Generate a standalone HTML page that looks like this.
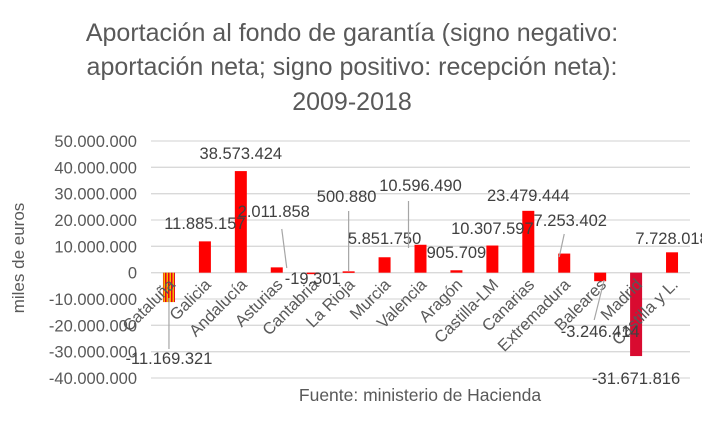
<!DOCTYPE html>
<html><head><meta charset="utf-8"><style>
body{margin:0;background:#fff;}
svg{display:block;font-family:"Liberation Sans",Arial,sans-serif;}
</style></head><body>
<svg id="chart" width="702" height="427" viewBox="0 0 702 427">
<defs>
<pattern id="catStripes" width="3" height="4" patternUnits="userSpaceOnUse">
<rect width="3" height="4" fill="#f5b800"/><rect width="1.5" height="4" fill="#e8001c"/>
</pattern>
</defs>
<g fill="#595959" font-size="25" text-anchor="middle">
<text x="352" y="41">Aportación al fondo de garantía (signo negativo:</text>
<text x="352" y="75">aportación neta; signo positivo: recepción neta):</text>
<text x="352" y="110">2009-2018</text>
</g>
<g id="grid"></g>
<g id="yticks" fill="#595959" font-size="16.5" text-anchor="end"></g>
<text x="0" y="0" transform="translate(24,258) rotate(-90)" fill="#595959" font-size="17" text-anchor="middle">miles de euros</text>
<g id="bars"></g>
<g id="xlabels" fill="#595959" font-size="16.5" text-anchor="end"></g>
<g id="vlabels" fill="#404040" font-size="16.5" text-anchor="middle"></g>
<text x="420" y="401" fill="#595959" font-size="17.5" text-anchor="middle">Fuente: ministerio de Hacienda</text>
</svg>
<script>
const categories=["Cataluña","Galicia","Andalucía","Asturias","Cantabria","La Rioja","Murcia","Valencia","Aragón","Castilla-LM","Canarias","Extremadura","Baleares","Madrid","Castilla y L."];
const values=[-11169321,11885157,38573424,2011858,-19301,500880,5851750,10596490,905709,10307597,23479444,7253402,-3246414,-31671816,7728018];
const valueLabels=["-11.169.321","11.885.157","38.573.424","2.011.858","-19.301","500.880","5.851.750","10.596.490","905.709","10.307.597","23.479.444","7.253.402","-3.246.414","-31.671.816","7.728.018"];
const yTicks=[50000000,40000000,30000000,20000000,10000000,0,-10000000,-20000000,-30000000,-40000000];
const yTickLabels=["50.000.000","40.000.000","30.000.000","20.000.000","10.000.000","0","-10.000.000","-20.000.000","-30.000.000","-40.000.000"];
const labOff=[[0,null,364],[0,null,229],[0,null,159],[-3,null,217],[0,null,284],[-2,null,202],[0,null,244],[0,null,191],[0,null,258],[0,null,234],[0,null,201],[6,null,226],[0,null,337],[0,null,384],[0,null,244]];
const leaders={0:[0,298,0,349],3:[10,268,5,229],5:[0,271,0,211],7:[-12,248,-12,201],11:[-5,257,0,234],12:[4,280,-6,320]};
const ns="http://www.w3.org/2000/svg";
const x0=151,x1=690,yMax=50000000,yMin=-40000000,yTop=141,yBot=378;
const yS=v=>yTop+(yMax-v)/(yMax-yMin)*(yBot-yTop);
const bw=(x1-x0)/categories.length;
const xC=i=>x0+bw*(i+0.5);
function mk(t,p,a){const e=document.createElementNS(ns,t);for(const k in a)e.setAttribute(k,a[k]);p.appendChild(e);return e;}
const grid=document.getElementById('grid'),yt=document.getElementById('yticks');
yTicks.forEach((v,i)=>{
 const l=mk('line',grid,{x1:x0,x2:x1,y1:yS(v),y2:yS(v),stroke:'#d9d9d9','stroke-width':1.3});
 
 
 const t=mk('text',yt,{x:137,y:yS(v)+6});
 
 
 t.textContent=yTickLabels[i];
});
const bars=document.getElementById('bars'),xl=document.getElementById('xlabels'),vl=document.getElementById('vlabels');
values.forEach((v,i)=>{
 const y=Math.min(yS(v),yS(0)),h=Math.max(Math.abs(yS(v)-yS(0)),1.5);
 let fill='#ff0000';
 if(i===0)fill='url(#catStripes)';
 if(i===13)fill='#d90b30';
 const r=mk('rect',bars,{x:xC(i)-6,y:y,width:12,height:h,fill:fill});
 
 
 const cx=xC(i)+7,cy=yS(0)+13;
 const t=mk('text',xl,{x:cx,y:cy,transform:`rotate(-45 ${cx} ${cy})`});
 
 
 t.textContent=categories[i];
 if(leaders[i]){const L=leaders[i];
  const ln=mk('line',vl,{x1:xC(i)+L[0],y1:L[1],x2:xC(i)+L[2],y2:L[3],stroke:'#a6a6a6','stroke-width':1.2});
  
  }
 const o=labOff[i];
 const tl=mk('text',vl,{x:xC(i)+o[0],y:o[2]});
 
 
 tl.textContent=valueLabels[i];
});
</script>
</body></html>
